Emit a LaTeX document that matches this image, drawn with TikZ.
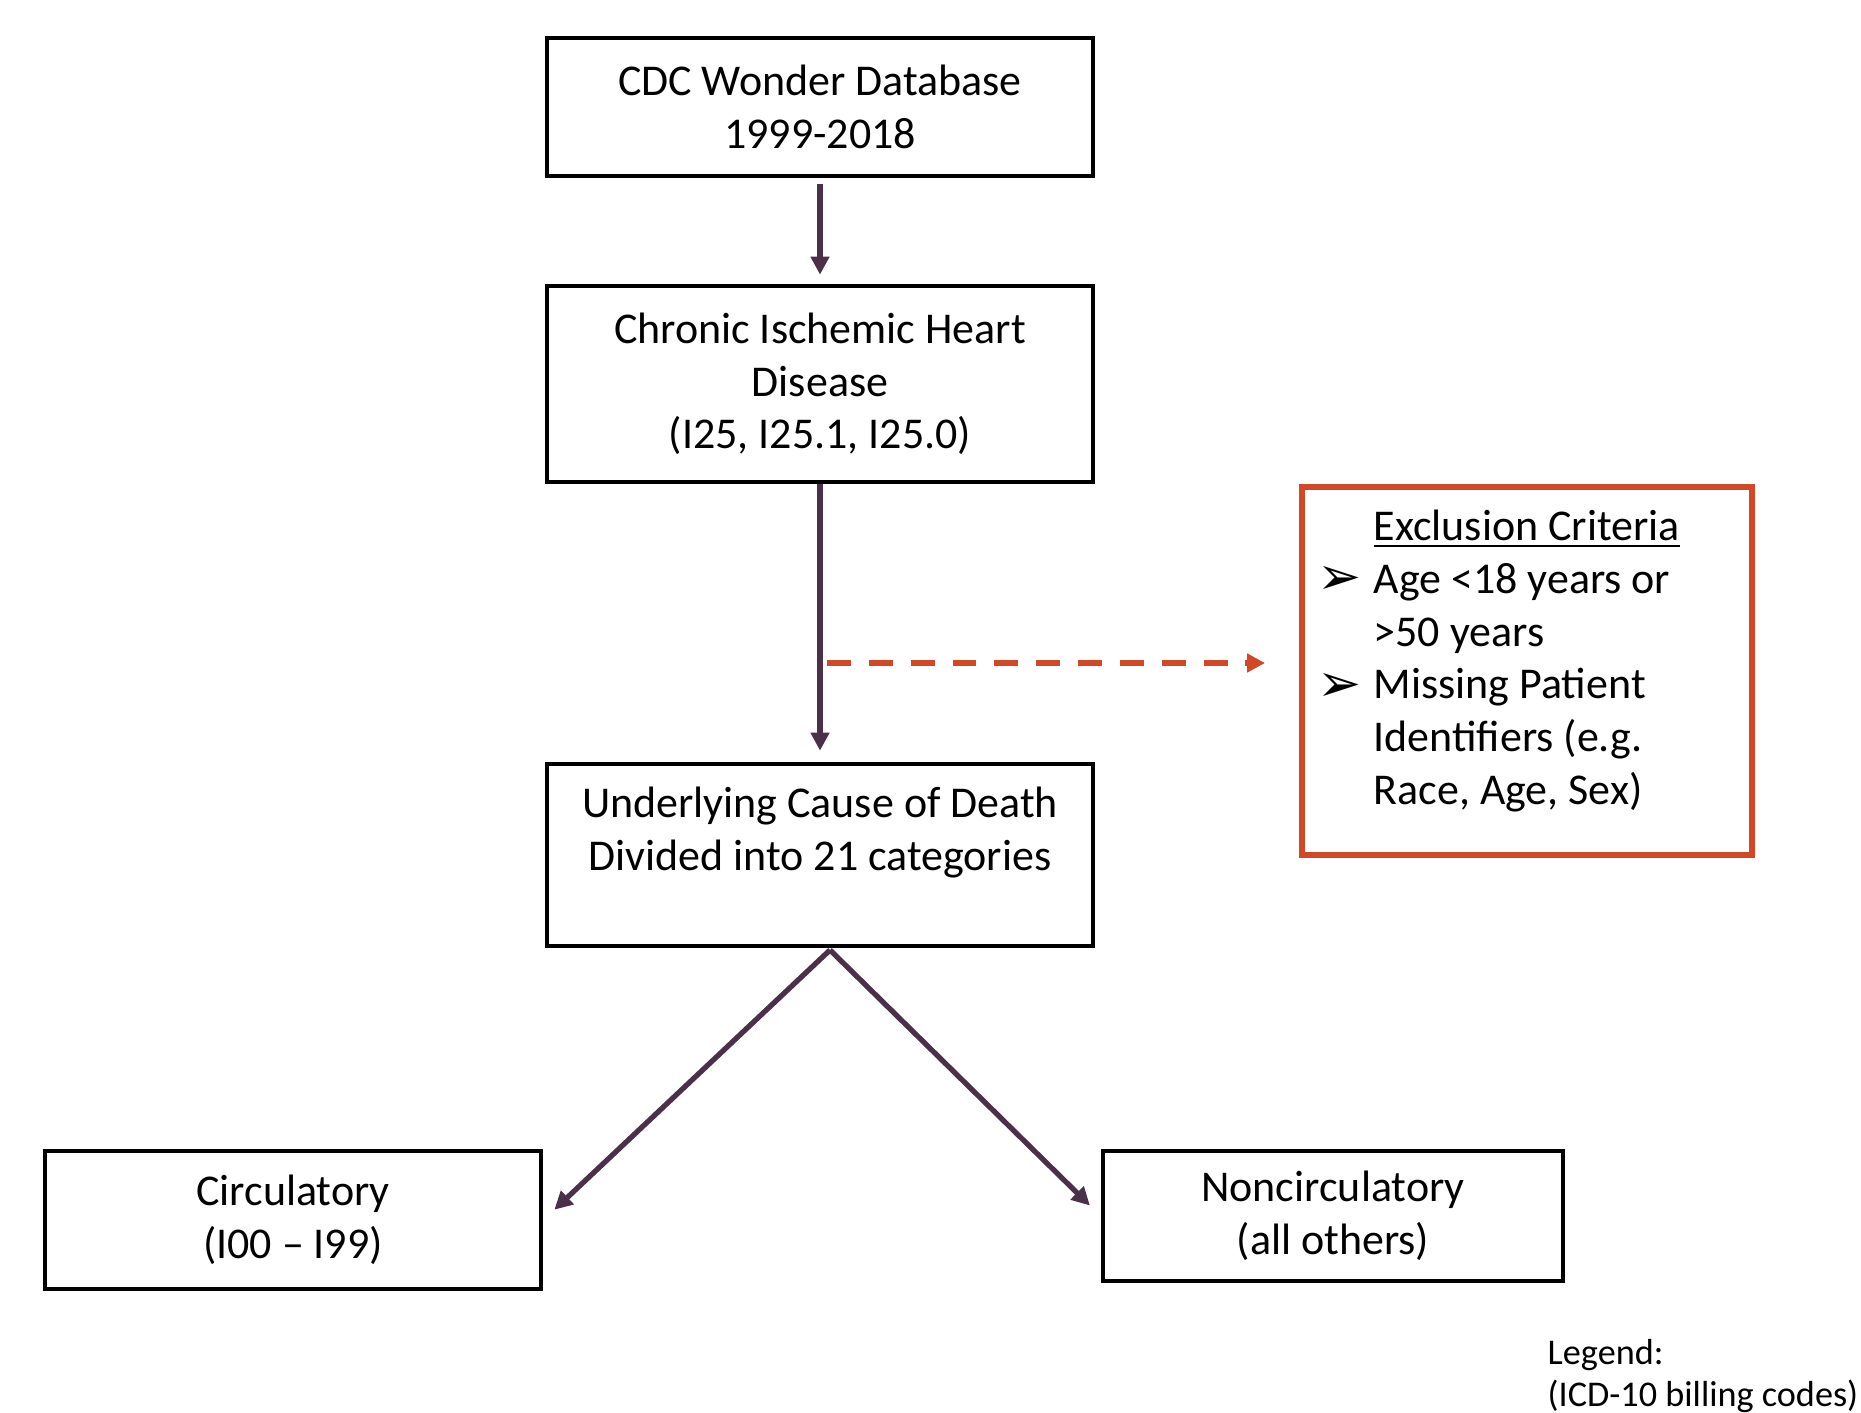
\documentclass[tikz,border=0pt]{standalone}
\usepackage{fontspec}
\setmainfont{Carlito}
\newfontfamily\symfont{DejaVu Sans}
\definecolor{plum}{HTML}{4B3049}
\definecolor{brick}{HTML}{D24726}
\usetikzlibrary{arrows.meta, positioning}

\begin{document}
\begin{tikzpicture}[x=0.01cm, y=-0.01cm,
    every node/.style={font=\fontsize{12.5}{15}\selectfont}]
  \tikzset{
    stepbox/.style={draw=black, line width=1.3pt, minimum width=5.46cm,
                    align=center, inner sep=0pt},
    exclbox/.style={draw=brick, line width=1.6pt, minimum width=4.5cm,
                    minimum height=3.68cm, inner sep=0pt},
    flow/.style={-{Triangle[length=0.18cm, width=0.18cm]}, plum,
                 line width=1.5pt},
    exclflow/.style={-{Triangle[length=0.18cm, width=0.18cm]}, brick,
                     line width=1.6pt, dash pattern=on 6.8pt off 5.1pt},
    bullet/.style={font=\symfont\fontsize{15}{15}\selectfont, inner sep=0pt}
  }
  \clip (0, 0) rectangle (1861, 1413);
  \useasboundingbox (0, 0) rectangle (1861, 1413);

  \node[stepbox, minimum height=1.38cm] (cdc) at (820, 107)
        {CDC Wonder Database\\1999-2018};
  \node[stepbox, minimum height=1.96cm] (chd) at (820, 384)
        {Chronic Ischemic Heart\\Disease\\(I25, I25.1, I25.0)};
  \node[stepbox, minimum height=1.82cm] (ucod) at (820, 855)
        {Underlying Cause of Death\\Divided into 21 categories\\ \mbox{}};
  \node[stepbox, minimum width=4.96cm, minimum height=1.38cm]
        (circ) at (293, 1220) {Circulatory\\(I00 – I99)};
  \node[stepbox, minimum width=4.6cm, minimum height=1.3cm]
        (noncirc) at (1333, 1216) {Noncirculatory\\(all others)};

  % exclusion criteria
  \node[exclbox] (excl) at (1527, 671) {};
  \node[anchor=west, align=left, inner sep=0pt] (crit) at (1373, 661)
        {\underline{Exclusion Criteria}\\Age <18 years or\\>50 years\\
         Missing Patient\\Identifiers (e.g.\\Race, Age, Sex)};
  \node[bullet] (b1) at (1340, 580) {➢};
  \node[bullet] (b2) at (1340, 687) {➢};

  \draw[flow, shorten <=0.06cm, shorten >=0.09cm] (cdc) -- (chd);
  \draw[flow, shorten >=0.11cm] (chd) -- (ucod);
  \coordinate (tap) at (827, 663);
  \draw[exclflow, shorten >=0.34cm] (tap) -- (tap -| excl.west);

  \coordinate (fork) at (830, 950);
  \draw[flow, shorten >=0.15cm] (fork) -- (circ.east);
  \draw[flow, shorten >=0.15cm] (fork) -- (noncirc.west);

  \node[anchor=west, align=left, inner sep=0pt,
        font=\fontsize{10.3}{12.2}\selectfont] (legend) at (1547, 1376)
        {Legend:\\(ICD-10 billing codes)};
\end{tikzpicture}
\end{document}
